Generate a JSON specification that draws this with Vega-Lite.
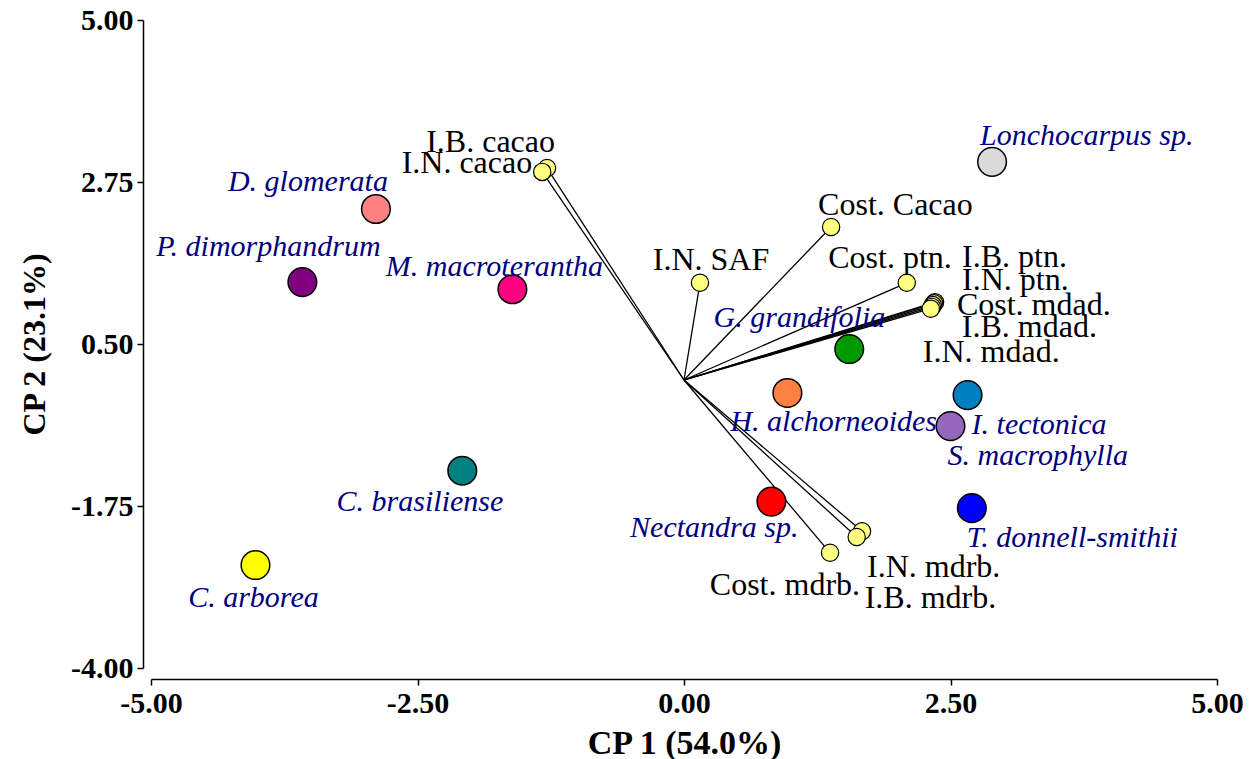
{
  "$schema": "https://vega.github.io/schema/vega-lite/v6.json",
  "width": 1066,
  "height": 648,
  "autosize": {"type": "none"},
  "padding": {"left": 151, "top": 20, "right": 42, "bottom": 91},
  "background": "white",
  "config": {
    "view": {"stroke": null},
    "font": "Liberation Serif",
    "style": {
      "sp": {"font": "Liberation Serif", "fontStyle": "italic", "fontSize": 30, "color": "#000080", "baseline": "middle"},
      "var": {"font": "Liberation Serif", "fontSize": 32, "color": "#000000", "baseline": "middle"}
    }
  },
  "data": {
    "values": [
      {"name": "Lonchocarpus sp.", "kind": "species", "pc1": 2.89, "pc2": 3.03},
      {"name": "D. glomerata", "kind": "species", "pc1": -2.89, "pc2": 2.375},
      {"name": "P. dimorphandrum", "kind": "species", "pc1": -3.58, "pc2": 1.36},
      {"name": "M. macroterantha", "kind": "species", "pc1": -1.61, "pc2": 1.26},
      {"name": "G. grandifolia", "kind": "species", "pc1": 1.55, "pc2": 0.43},
      {"name": "H. alchorneoides", "kind": "species", "pc1": 0.97, "pc2": -0.18},
      {"name": "I. tectonica", "kind": "species", "pc1": 2.66, "pc2": -0.21},
      {"name": "S. macrophylla", "kind": "species", "pc1": 2.5, "pc2": -0.64},
      {"name": "C. brasiliense", "kind": "species", "pc1": -2.08, "pc2": -1.26},
      {"name": "Nectandra sp.", "kind": "species", "pc1": 0.82, "pc2": -1.69},
      {"name": "T. donnell-smithii", "kind": "species", "pc1": 2.7, "pc2": -1.78},
      {"name": "C. arborea", "kind": "species", "pc1": -4.02, "pc2": -2.57},
      {"name": "I.B. cacao", "kind": "variable", "pc1": -1.285, "pc2": 2.944},
      {"name": "I.N. cacao", "kind": "variable", "pc1": -1.33, "pc2": 2.89},
      {"name": "I.N. SAF", "kind": "variable", "pc1": 0.15, "pc2": 1.35},
      {"name": "Cost. Cacao", "kind": "variable", "pc1": 1.38, "pc2": 2.125},
      {"name": "Cost. ptn.", "kind": "variable", "pc1": 2.09, "pc2": 1.35},
      {"name": "I.B. ptn.", "kind": "variable", "pc1": 2.355, "pc2": 1.08},
      {"name": "I.N. ptn.", "kind": "variable", "pc1": 2.345, "pc2": 1.065},
      {"name": "Cost. mdad.", "kind": "variable", "pc1": 2.335, "pc2": 1.04},
      {"name": "I.B. mdad.", "kind": "variable", "pc1": 2.325, "pc2": 1.015},
      {"name": "I.N. mdad.", "kind": "variable", "pc1": 2.315, "pc2": 0.99},
      {"name": "I.N. mdrb.", "kind": "variable", "pc1": 1.67, "pc2": -2.1},
      {"name": "I.B. mdrb.", "kind": "variable", "pc1": 1.62, "pc2": -2.18},
      {"name": "Cost. mdrb.", "kind": "variable", "pc1": 1.37, "pc2": -2.4}
    ]
  },
  "encoding": {
    "x": {
      "field": "pc1", "type": "quantitative",
      "scale": {"domain": [-5, 5], "nice": false, "zero": false},
      "axis": {
        "title": "CP 1 (54.0%)", "values": [-5, -2.5, 0, 2.5, 5], "format": ".2f",
        "labelExpr": "replace(datum.label, '\u2212', '-')",
        "grid": false, "offset": 11, "domainColor": "#000000", "domainWidth": 1.5,
        "tickColor": "#000000", "tickWidth": 1.5, "tickSize": 6,
        "labelFont": "Liberation Serif", "labelFontSize": 30, "labelFontWeight": "bold", "labelColor": "#000000",
        "labelPadding": 3, "labelFlush": false,
        "titleFont": "Liberation Serif", "titleFontSize": 34, "titleFontWeight": "bold", "titleColor": "#000000", "titlePadding": 8
      }
    },
    "y": {
      "field": "pc2", "type": "quantitative",
      "scale": {"domain": [-4, 5], "nice": false, "zero": false},
      "axis": {
        "title": "CP 2 (23.1%)", "values": [-4, -1.75, 0.5, 2.75, 5], "format": ".2f",
        "labelExpr": "replace(datum.label, '\u2212', '-')",
        "grid": false, "offset": 8, "domainColor": "#000000", "domainWidth": 1.5,
        "tickColor": "#000000", "tickWidth": 1.5, "tickSize": 6,
        "labelFont": "Liberation Serif", "labelFontSize": 30, "labelFontWeight": "bold", "labelColor": "#000000",
        "labelPadding": 4, "labelFlush": false,
        "titleFont": "Liberation Serif", "titleFontSize": 32, "titleFontWeight": "bold", "titleColor": "#000000", "titlePadding": 19
      }
    }
  },
  "layer": [
    {
      "transform": [{"filter": {"field": "kind", "equal": "variable"}}],
      "mark": {"type": "rule", "color": "#000000", "strokeWidth": 1.3},
      "encoding": {"x2": {"datum": 0}, "y2": {"datum": 0}}
    },
    {
      "transform": [{"filter": {"field": "kind", "equal": "variable"}}],
      "mark": {"type": "point", "shape": "circle", "filled": true, "size": 300, "color": "#FFFF80", "stroke": "#000000", "strokeWidth": 1.2, "opacity": 1}
    },
    {
      "transform": [{"filter": {"field": "kind", "equal": "species"}}],
      "mark": {"type": "point", "shape": "circle", "filled": true, "size": 820, "stroke": "#000000", "strokeWidth": 1.5, "opacity": 1},
      "encoding": {
        "color": {
          "field": "name", "type": "nominal", "legend": null,
          "scale": {
            "domain": ["Lonchocarpus sp.", "D. glomerata", "P. dimorphandrum", "M. macroterantha", "G. grandifolia", "H. alchorneoides", "I. tectonica", "S. macrophylla", "C. brasiliense", "Nectandra sp.", "T. donnell-smithii", "C. arborea"],
            "range": ["#DADADA", "#FF8080", "#800080", "#FF0080", "#009A00", "#FF8040", "#0080C0", "#9467BD", "#008080", "#FF0000", "#0000FF", "#FFFF00"]
          }
        }
      }
    },
    {"transform": [{"filter": {"field": "name", "equal": "Lonchocarpus sp."}}], "mark": {"type": "text", "style": "sp", "align": "left", "dx": -12, "dy": -26}, "encoding": {"text": {"field": "name"}}},
    {"transform": [{"filter": {"field": "name", "equal": "D. glomerata"}}], "mark": {"type": "text", "style": "sp", "align": "right", "dx": 12, "dy": -27}, "encoding": {"text": {"field": "name"}}},
    {"transform": [{"filter": {"field": "name", "equal": "P. dimorphandrum"}}], "mark": {"type": "text", "style": "sp", "align": "center", "dx": -34, "dy": -35}, "encoding": {"text": {"field": "name"}}},
    {"transform": [{"filter": {"field": "name", "equal": "M. macroterantha"}}], "mark": {"type": "text", "style": "sp", "align": "center", "dx": -18, "dy": -22}, "encoding": {"text": {"field": "name"}}},
    {"transform": [{"filter": {"field": "name", "equal": "G. grandifolia"}}], "mark": {"type": "text", "style": "sp", "align": "right", "dx": 36, "dy": -31}, "encoding": {"text": {"field": "name"}}},
    {"transform": [{"filter": {"field": "name", "equal": "H. alchorneoides"}}], "mark": {"type": "text", "style": "sp", "align": "left", "dx": -57, "dy": 29}, "encoding": {"text": {"field": "name"}}},
    {"transform": [{"filter": {"field": "name", "equal": "I. tectonica"}}], "mark": {"type": "text", "style": "sp", "align": "left", "dx": 4, "dy": 30}, "encoding": {"text": {"field": "name"}}},
    {"transform": [{"filter": {"field": "name", "equal": "S. macrophylla"}}], "mark": {"type": "text", "style": "sp", "align": "left", "dx": -3, "dy": 30}, "encoding": {"text": {"field": "name"}}},
    {"transform": [{"filter": {"field": "name", "equal": "C. brasiliense"}}], "mark": {"type": "text", "style": "sp", "align": "right", "dx": 41, "dy": 31}, "encoding": {"text": {"field": "name"}}},
    {"transform": [{"filter": {"field": "name", "equal": "Nectandra sp."}}], "mark": {"type": "text", "style": "sp", "align": "right", "dx": 27, "dy": 26}, "encoding": {"text": {"field": "name"}}},
    {"transform": [{"filter": {"field": "name", "equal": "T. donnell-smithii"}}], "mark": {"type": "text", "style": "sp", "align": "left", "dx": -5, "dy": 30}, "encoding": {"text": {"field": "name"}}},
    {"transform": [{"filter": {"field": "name", "equal": "C. arborea"}}], "mark": {"type": "text", "style": "sp", "align": "center", "dx": -2, "dy": 33}, "encoding": {"text": {"field": "name"}}},
    {"transform": [{"filter": {"field": "name", "equal": "I.B. cacao"}}], "mark": {"type": "text", "style": "var", "align": "right", "dx": 8, "dy": -26}, "encoding": {"text": {"field": "name"}}},
    {"transform": [{"filter": {"field": "name", "equal": "I.N. cacao"}}], "mark": {"type": "text", "style": "var", "align": "right", "dx": -10, "dy": -9}, "encoding": {"text": {"field": "name"}}},
    {"transform": [{"filter": {"field": "name", "equal": "I.N. SAF"}}], "mark": {"type": "text", "style": "var", "align": "center", "dx": 11, "dy": -23}, "encoding": {"text": {"field": "name"}}},
    {"transform": [{"filter": {"field": "name", "equal": "Cost. Cacao"}}], "mark": {"type": "text", "style": "var", "align": "left", "dx": -13, "dy": -22}, "encoding": {"text": {"field": "name"}}},
    {"transform": [{"filter": {"field": "name", "equal": "Cost. ptn."}}], "mark": {"type": "text", "style": "var", "align": "right", "dx": 45, "dy": -25}, "encoding": {"text": {"field": "name"}}},
    {"transform": [{"filter": {"field": "name", "equal": "I.B. ptn."}}], "mark": {"type": "text", "style": "var", "align": "left", "dx": 27, "dy": -45}, "encoding": {"text": {"field": "name"}}},
    {"transform": [{"filter": {"field": "name", "equal": "I.N. ptn."}}], "mark": {"type": "text", "style": "var", "align": "left", "dx": 28, "dy": -23}, "encoding": {"text": {"field": "name"}}},
    {"transform": [{"filter": {"field": "name", "equal": "Cost. mdad."}}], "mark": {"type": "text", "style": "var", "align": "left", "dx": 24, "dy": 0}, "encoding": {"text": {"field": "name"}}},
    {"transform": [{"filter": {"field": "name", "equal": "I.B. mdad."}}], "mark": {"type": "text", "style": "var", "align": "left", "dx": 30, "dy": 20}, "encoding": {"text": {"field": "name"}}},
    {"transform": [{"filter": {"field": "name", "equal": "I.N. mdad."}}], "mark": {"type": "text", "style": "var", "align": "left", "dx": -8, "dy": 43}, "encoding": {"text": {"field": "name"}}},
    {"transform": [{"filter": {"field": "name", "equal": "I.N. mdrb."}}], "mark": {"type": "text", "style": "var", "align": "left", "dx": 5, "dy": 36}, "encoding": {"text": {"field": "name"}}},
    {"transform": [{"filter": {"field": "name", "equal": "I.B. mdrb."}}], "mark": {"type": "text", "style": "var", "align": "left", "dx": 8, "dy": 61}, "encoding": {"text": {"field": "name"}}},
    {"transform": [{"filter": {"field": "name", "equal": "Cost. mdrb."}}], "mark": {"type": "text", "style": "var", "align": "right", "dx": 30, "dy": 32}, "encoding": {"text": {"field": "name"}}}
  ]
}
